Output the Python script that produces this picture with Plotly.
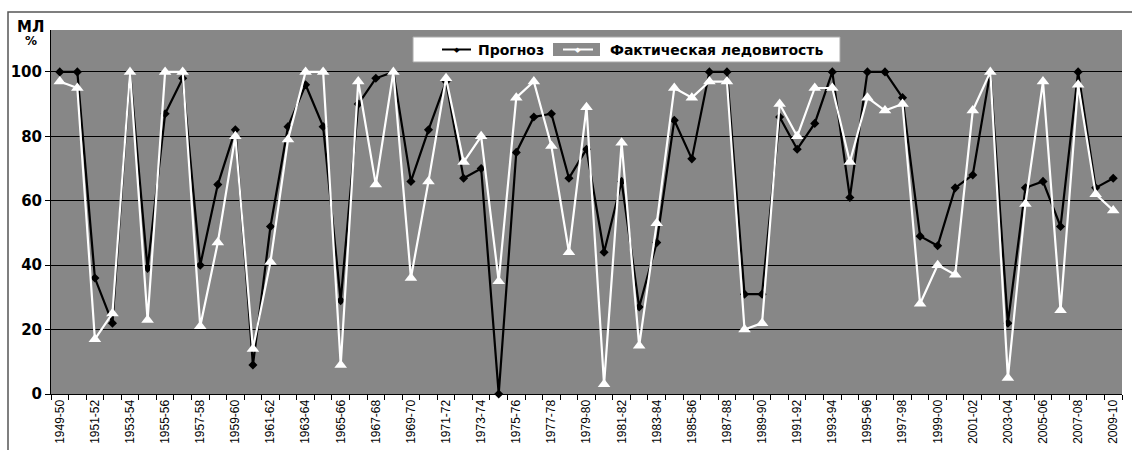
import plotly.graph_objects as go

seasons = [f"{y}-{str(y + 1)[-2:]}" for y in range(1949, 2010)]

forecast = [100, 100, 36, 22, 100, 39, 87, 98, 40, 65,
            82, 9, 52, 83, 96, 83, 29, 90, 98, 100,
            66, 82, 97, 67, 70, 0, 75, 86, 87, 67,
            76, 44, 66, 27, 47, 85, 73, 100, 100, 31,
            31, 86, 76, 84, 100, 61, 100, 100, 92, 49,
            46, 64, 68, 100, 22, 64, 66, 52, 100, 64,
            67]

actual = [97, 95, 17, 25, 100, 23, 100, 100, 21, 47,
          80, 14, 41, 79, 100, 100, 9, 97, 65, 100,
          36, 66, 98, 72, 80, 35, 92, 97, 77, 44,
          89, 3, 78, 15, 53, 95, 92, 97, 97, 20,
          22, 90, 80, 95, 95, 72, 92, 88, 90, 28,
          40, 37, 88, 100, 5, 59, 97, 26, 96, 62,
          57]

tick_text = [s if i % 2 == 0 else "" for i, s in enumerate(seasons)]
y_ticks = [0, 20, 40, 60, 80, 100]

series_names = ["Прогноз", "Фактическая ледовитость"]

fig = go.Figure()
fig.add_trace(go.Scatter(
    x=seasons, y=forecast, mode="lines+markers", name=series_names[0],
    line=dict(color="black", width=2.2),
    marker=dict(symbol="diamond", size=7, color="black"),
    showlegend=False, cliponaxis=False))
fig.add_trace(go.Scatter(
    x=seasons, y=actual, mode="lines+markers", name=series_names[1],
    line=dict(color="white", width=2.2),
    marker=dict(symbol="triangle-up", size=11, color="white"),
    showlegend=False, cliponaxis=False))

W, H = 1132, 450
L, R, T, B = 51, 10, 30, 56
pw, ph = W - L - R, H - T - B

def px(x):
    return (x - L) / pw

def py(y):
    return (H - B - y) / ph

shapes = [
    # outer chart border
    dict(type="rect", xref="paper", yref="paper",
         x0=px(8), x1=px(1160), y0=py(480), y1=py(12),
         line=dict(color="#555555", width=1.5), fillcolor="rgba(0,0,0,0)", layer="below"),
    # legend box
    dict(type="rect", xref="paper", yref="paper",
         x0=px(413), x1=px(840), y0=py(62), y1=py(37),
         line=dict(color="#aaaaaa", width=1), fillcolor="white", layer="above"),
    # legend sample 1
    dict(type="line", xref="paper", yref="paper",
         x0=px(442), x1=px(471), y0=py(49.5), y1=py(49.5),
         line=dict(color="black", width=2), layer="above"),
    # legend sample 2 background
    dict(type="rect", xref="paper", yref="paper",
         x0=px(553), x1=px(600), y0=py(56), y1=py(43),
         line=dict(width=0), fillcolor="#8a8a8a", layer="above"),
    dict(type="line", xref="paper", yref="paper",
         x0=px(563), x1=px(593), y0=py(49.5), y1=py(49.5),
         line=dict(color="white", width=2), layer="above"),
]

annotations = [
    dict(xref="paper", yref="paper", x=px(456.5), y=py(49.5), text="◆",
         showarrow=False, font=dict(size=7, color="black"), xanchor="center", yanchor="middle"),
    dict(xref="paper", yref="paper", x=px(578), y=py(49.5), text="◆",
         showarrow=False, font=dict(size=7, color="white"), xanchor="center", yanchor="middle"),
    dict(xref="paper", yref="paper", x=px(476), y=py(49.5), text="<b>" + series_names[0] + "</b>",
         showarrow=False, font=dict(size=14, color="black", family="DejaVu Sans"),
         xanchor="left", yanchor="middle"),
    dict(xref="paper", yref="paper", x=px(608), y=py(49.5), text="<b>" + series_names[1] + "</b>",
         showarrow=False, font=dict(size=14, color="black", family="DejaVu Sans"),
         xanchor="left", yanchor="middle"),
    dict(xref="paper", yref="paper", x=px(30), y=py(27), text="<b>МЛ</b>",
         showarrow=False, font=dict(size=15, color="black", family="DejaVu Sans"),
         xanchor="center", yanchor="middle"),
    dict(xref="paper", yref="paper", x=px(31), y=py(41), text="<b>%</b>",
         showarrow=False, font=dict(size=12, color="black", family="DejaVu Sans"),
         xanchor="center", yanchor="middle"),
]

fig.update_layout(
    width=W, height=H,
    margin=dict(l=L, r=R, t=T, b=B, autoexpand=False),
    paper_bgcolor="white",
    plot_bgcolor="#878787",
    shapes=shapes,
    annotations=annotations,
    hovermode=False,
    xaxis=dict(
        type="category", tickmode="array", tickvals=seasons, ticktext=tick_text,
        tickson="boundaries", ticks="outside", ticklen=5, tickcolor="black", tickwidth=1,
        tickangle=-90, tickfont=dict(size=12, family="Liberation Sans", color="black"),
        showline=True, linecolor="black", linewidth=1, showgrid=False, automargin=False,
        range=[-0.5, len(seasons) - 0.5]),
    yaxis=dict(
        range=[0, 113], tickvals=y_ticks, ticks="outside", ticklen=5, automargin=False,
        tickcolor="black", tickfont=dict(size=15, family="DejaVu Sans", color="black", weight="bold"),
        showline=True, linecolor="black", linewidth=1,
        showgrid=True, gridcolor="black", gridwidth=1, zeroline=False),
)

fig.write_html(
    "out.html",
    config={"displayModeBar": False},
    post_script="document.body.style.margin='0';document.body.style.overflow='hidden';",
)
